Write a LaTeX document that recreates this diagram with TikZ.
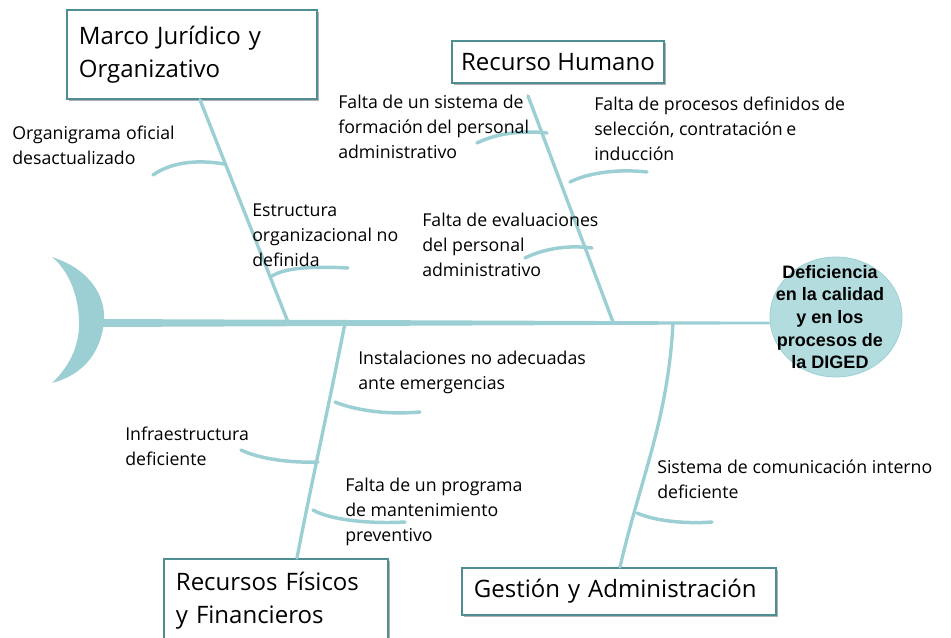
\documentclass[tikz,border=0pt]{standalone}
\usepackage{fontspec}
\setmainfont{Open Sans}
\newfontfamily\headfont{Liberation Sans}
\usetikzlibrary{shadows,shapes.geometric,calc}
\definecolor{bone}{HTML}{9BCFD4}
\definecolor{boxc}{HTML}{4E8E92}
\definecolor{headc}{HTML}{B3DCDF}
\begin{document}
\begin{tikzpicture}[x=0.75pt,y=-0.75pt,
  bonel/.style={draw=bone, line width=2.5pt, line cap=round},
  subl/.style={draw=bone, line width=2.6pt, line cap=round},
  cause/.style={anchor=north west, inner sep=0pt, align=left, font=\fontsize{13.3}{18.75}\selectfont},
  titlebox/.style={draw=boxc, line width=1.4pt, fill=white, anchor=north west, align=left,
    inner xsep=9pt, inner ysep=0pt, font=\fontsize{18}{25}\selectfont,
    execute at begin node={\hyphenpenalty=10000\relax},
    drop shadow={shadow xshift=1.3pt, shadow yshift=-1.3pt, fill=black!30, opacity=1}},
]
\useasboundingbox (0,0) rectangle (951,638);
\clip (0,0) rectangle (951,638);

% title boxes
\node[titlebox, text width=169.5pt, minimum height=66.75pt] (marco) at (66,9) {Marco Jurídico y\\Organizativo};
\node[titlebox, inner xsep=0pt, minimum width=159pt, minimum height=31.5pt] (rh) at (451,40) {Recurso Humano};
\node[titlebox, text width=150pt, minimum height=63pt] (rff) at (163,558) {Recursos Físicos\\y Financieros};
\node[titlebox, text width=217.5pt, minimum height=35.25pt] (ga) at (461,567) {Gestión y Administración};

% head
\node[ellipse, fill=headc, draw=bone, line width=0.6pt, minimum width=99pt, minimum height=90pt, inner sep=0pt] (head) at (836,317) {};
\node[align=center, inner sep=0pt, font=\headfont\bfseries\fontsize{13.5}{17}\selectfont] (headtxt) at (830,317) {Deficiencia\\en la calidad\\y en los\\procesos de\\la DIGED};

% tail
\coordinate (tailtop) at (52,257);
\coordinate (tailbot) at (52,383);
\fill[bone] (tailtop) .. controls (92,270) and (106,298) .. (104,322)
  .. controls (101,350) and (86,374) .. (tailbot)
  .. controls (72,364) and (80,342) .. (79,320)
  .. controls (78,296) and (70,272) .. (tailtop) -- cycle;

% spine
\coordinate (sp0) at (100,323);
\coordinate (sp1) at (head.west |- 0,323);
\fill[bone] ($(sp0)+(0,-4)$) -- ($(sp1)+(0,-1.3)$) -- ($(sp1)+(0,1.3)$) -- ($(sp0)+(0,4)$) -- cycle;

% main bones
\coordinate (j1) at (288,322);
\coordinate (j2) at (613,322);
\coordinate (j3) at (345,323);
\coordinate (j4) at (673,323);
\draw[bonel] ($(marco.south west)+(134,0)$) -- (j1);
\draw[bonel] ($(rh.south west)+(77,12)$) -- (j2);
\draw[bonel] (j3) .. controls (330,400) and (310,490) .. ($(rff.north west)+(134,0)$);
\draw[bonel] (j4) .. controls (668,420) and (640,480) .. ($(ga.north west)+(159,0)$);

% sub-bones
\coordinate (o1) at (224,164); \coordinate (o2) at (153,175);
\draw[subl] (o1) .. controls (195,159) and (170,163) .. (o2);
\coordinate (e1) at (272,276); \coordinate (e2) at (348,268);
\draw[subl] (e1) .. controls (285,268) and (310,266) .. (e2);
\coordinate (f1) at (547,133); \coordinate (f2) at (477,143);
\draw[subl] (f1) .. controls (520,130) and (495,134) .. (f2);
\coordinate (p1) at (570,182); \coordinate (p2) at (647,172);
\draw[subl] (p1) .. controls (590,172) and (620,169) .. (p2);
\coordinate (v1) at (592,248); \coordinate (v2) at (525,258);
\draw[subl] (v1) .. controls (570,245) and (545,248) .. (v2);
\coordinate (i1) at (335,402); \coordinate (i2) at (420,412);
\draw[subl] (i1) .. controls (355,410) and (385,415) .. (i2);
\coordinate (n1) at (318,462); \coordinate (n2) at (241,450);
\draw[subl] (n1) .. controls (290,463) and (260,459) .. (n2);
\coordinate (m1) at (313,510); \coordinate (m2) at (405,522);
\draw[subl] (m1) .. controls (330,520) and (370,524) .. (m2);
\coordinate (s1) at (637,513); \coordinate (s2) at (712,522);
\draw[subl] (s1) .. controls (655,521) and (685,524) .. (s2);

% cause texts
\node[cause] (t1) at (12,126) {Organigrama\hspace{0.3em}oficial\\desactualizado};
\node[cause] (t2) at (252,204) {Estructura\\organizacional no\\definida};
\node[cause] (t3) at (338,95) {Falta de un sistema de\\formación\hspace{0.2em}del personal\\administrativo};
\node[cause] (t4) at (594,97) {Falta de procesos definidos de\\selección, contratación\hspace{0.2em}e\\inducción};
\node[cause] (t5) at (422,213) {Falta de evaluaciones\\del personal\\administrativo};
\node[cause] (t6) at (358,351) {Instalaciones no adecuadas\\ante emergencias};
\node[cause] (t7) at (125,427) {Infraestructura\\deficiente};
\node[cause] (t8) at (345,478) {Falta de un programa\\de mantenimiento\\preventivo};
\node[cause] (t9) at (657,460) {Sistema de comunicación interno\\deficiente};
\end{tikzpicture}
\end{document}
